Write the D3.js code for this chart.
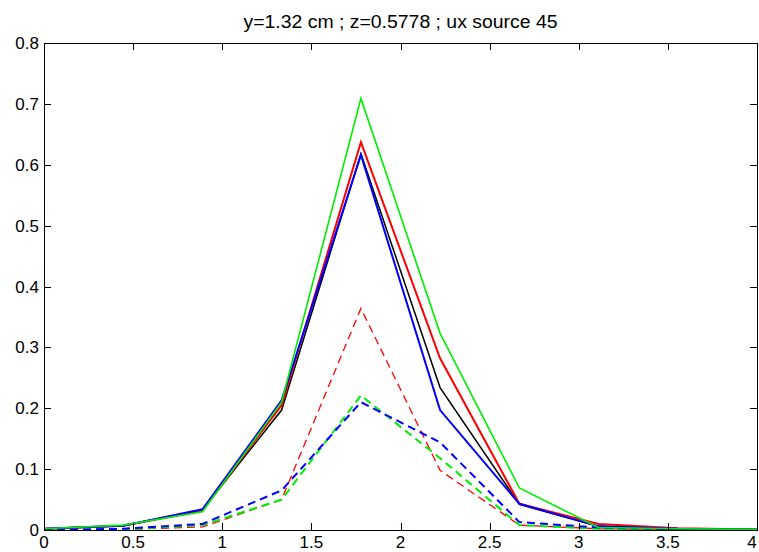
<!DOCTYPE html>
<html><head><meta charset="utf-8">
<script src="https://cdn.jsdelivr.net/npm/d3@7"></script>
<style>body{margin:0;background:#fff}svg{display:block}text{font-family:"Liberation Sans",Arial,sans-serif}</style>
</head><body>
<svg id="c" width="759" height="552"></svg>
<script>
const title = "y=1.32 cm ; z=0.5778 ; ux source 45";
const xs = [0, 0.444, 0.889, 1.333, 1.778, 2.222, 2.667, 3.111, 3.556, 4];
const xTicks = [0, 0.5, 1, 1.5, 2, 2.5, 3, 3.5, 4];
const yTicks = [0, 0.1, 0.2, 0.3, 0.4, 0.5, 0.6, 0.7, 0.8];
const blackSolid = [0.002, 0.007, 0.033, 0.197, 0.618, 0.234, 0.042, 0.006, 0.002, 0.001];
const redSolid   = [0.002, 0.007, 0.032, 0.205, 0.637, 0.282, 0.043, 0.010, 0.003, 0.001];
const blueSolid  = [0.002, 0.007, 0.034, 0.213, 0.616, 0.197, 0.043, 0.006, 0.002, 0.001];
const greenSolid = [0.002, 0.008, 0.030, 0.210, 0.709, 0.323, 0.069, 0.004, 0.002, 0.001];
const redDash    = [0.000, 0.001, 0.005, 0.050, 0.364, 0.098, 0.008, 0.002, 0.001, 0.000];
const blueDash   = [0.000, 0.002, 0.010, 0.065, 0.210, 0.144, 0.013, 0.004, 0.001, 0.000];
const greenDash  = [0.000, 0.001, 0.008, 0.050, 0.221, 0.118, 0.008, 0.002, 0.001, 0.000];

const series = [
  {v: redDash, c: "#ff0000", w: 1.3, d: "8,5"},
  {v: greenDash, c: "#00ee00", w: 2, d: "8,5"},
  {v: blueDash, c: "#0000ff", w: 2, d: "8,5"},
  {v: blackSolid, c: "#000000", w: 1.5, d: null},
  {v: redSolid, c: "#ff0000", w: 2, d: null},
  {v: blueSolid, c: "#0000ff", w: 2, d: null},
  {v: greenSolid, c: "#00ee00", w: 1.6, d: null},
];

const L = 44, R = 757, T = 43, B = 530;
const x = d3.scaleLinear().domain([0, 4]).range([L, R]);
const y = d3.scaleLinear().domain([0, 0.8]).range([B, T]);
const svg = d3.select("#c");

const line = d3.line().x((d, i) => x(xs[i])).y(d => y(d));
series.forEach(s => {
  svg.append("path").attr("d", line(s.v)).attr("fill", "none")
    .attr("stroke", s.c).attr("stroke-width", s.w)
    .attr("stroke-dasharray", s.d);
});

const tickLen = 7;
const fmt = d => d3.format("")(d);
const ax = svg.append("g").attr("stroke", "#000").attr("stroke-width", 1);
ax.append("rect").attr("x", L + 0.5).attr("y", T + 0.5).attr("width", R - L).attr("height", B - T).attr("fill", "none");
xTicks.forEach(t => {
  const px = Math.round(x(t)) + 0.5;
  ax.append("line").attr("x1", px).attr("x2", px).attr("y1", B).attr("y2", B - tickLen);
  ax.append("line").attr("x1", px).attr("x2", px).attr("y1", T).attr("y2", T + tickLen);
});
yTicks.forEach(t => {
  const py = Math.round(y(t)) + 0.5;
  ax.append("line").attr("x1", L).attr("x2", L + tickLen).attr("y1", py).attr("y2", py);
  ax.append("line").attr("x1", R).attr("x2", R - tickLen).attr("y1", py).attr("y2", py);
});
svg.append("g").selectAll("text").data(xTicks).join("text")
  .attr("x", d => Math.min(x(d), 752)).attr("y", B + 18).attr("text-anchor", "middle")
  .attr("font-size", 17).text(fmt);
svg.append("g").selectAll("text").data(yTicks).join("text")
  .attr("x", L - 5).attr("y", d => y(d) + 6).attr("text-anchor", "end")
  .attr("font-size", 17).text(fmt);
svg.append("text").attr("x", (L + R) / 2).attr("y", 28).attr("text-anchor", "middle")
  .attr("font-size", 18).attr("textLength", 314).attr("lengthAdjust", "spacingAndGlyphs")
  .text(title);
</script>
</body></html>
